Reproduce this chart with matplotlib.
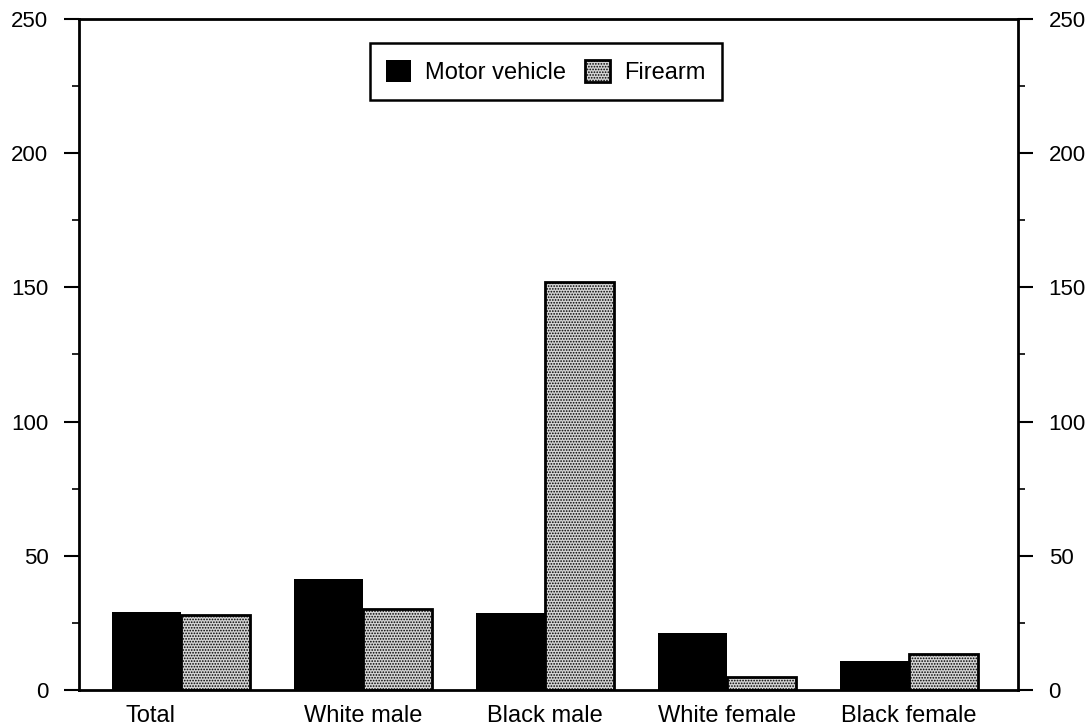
import matplotlib
matplotlib.use("Agg")
import matplotlib.pyplot as plt
import matplotlib.patches as mpatches
import matplotlib.transforms as mtransforms
import numpy as np

groups = ["Total", "White male", "Black male", "White female", "Black female"]
motor_vehicle = [29, 41.5, 28.8, 21.2, 10.7]
firearm = [28, 30, 152, 5, 13.4]

plt.rcParams["font.family"] = ["Liberation Sans", "DejaVu Sans"]
plt.rcParams["hatch.linewidth"] = 0.8

fig = plt.figure(figsize=(10.9, 7.27), dpi=100)
ax = fig.add_axes([0.0725, 0.0509, 0.8615, 0.9231])

x = np.arange(len(groups))
w = 0.38
ax.bar(x - w / 2, motor_vehicle, w, color="black", edgecolor="black",
       linewidth=0, label="Motor vehicle")
ax.bar(x + w / 2, firearm, w, color="#d4d4d4", edgecolor="black",
       hatch="......", linewidth=2.0, label="Firearm")

ax.set_xlim(-0.56, 4.6)
ax.set_ylim(0, 250)
ax.set_yticks(range(0, 251, 50))
ax.set_yticks(range(25, 251, 50), minor=True)
ax.tick_params(axis="y", which="major", length=11, width=1.5, labelsize=16,
               direction="out", left=True, right=True, labelleft=True,
               labelright=True, pad=11)
ax.tick_params(axis="y", which="minor", length=5, width=1.2,
               direction="out", left=True, right=True)
ax.set_xticks(x)
ax.set_xticklabels(groups, fontsize=17)
ax.tick_params(axis="x", length=0, pad=11)
# the "Total" label sits left of its group in the original
lbl = ax.get_xticklabels()[0]
lbl.set_transform(lbl.get_transform() + mtransforms.ScaledTranslation(-0.3, 0, fig.dpi_scale_trans))

for s in ax.spines.values():
    s.set_linewidth(2)

leg = ax.legend(loc="center", bbox_to_anchor=(0.497, 0.921), ncol=2,
                fontsize=17, frameon=False, handlelength=1.06,
                handleheight=1.06, handletextpad=0.6, columnspacing=0.8,
                borderpad=0.0, borderaxespad=0)

# box round the legend, 57 px tall, 16 px side padding
fig.canvas.draw()
bb = leg.get_window_extent()
box_h = 57
fig.add_artist(mpatches.Rectangle((bb.x0 - 16, (bb.y0 + bb.y1) / 2 - box_h / 2),
                                  bb.width + 32, box_h, transform=None,
                                  fill=False, edgecolor="black", linewidth=1.8))

fig.savefig("out.png", dpi=100)
